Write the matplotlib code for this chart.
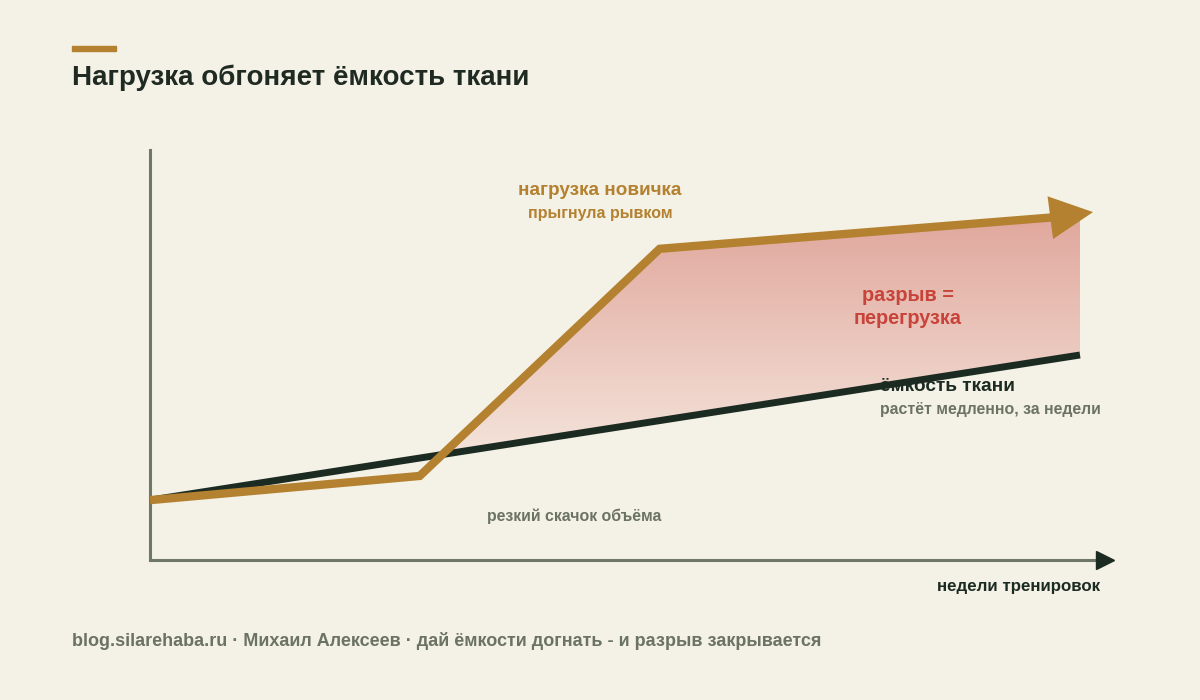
import matplotlib.pyplot as plt
import numpy as np
from matplotlib.colors import LinearSegmentedColormap
from matplotlib.patches import Polygon

# Data (weeks vs. relative level)
load_weeks = [0, 2.9, 5.48, 10]
load_level = [1.46, 2.05, 7.59, 8.41]
cap_weeks = [0, 10]
cap_level = [1.46, 5.0]

title = 'Нагрузка обгоняет ёмкость ткани'
footer = 'blog.silarehaba.ru · Михаил Алексеев · дай ёмкости догнать - и разрыв закрывается'

bg = '#f4f1e6'
gold = '#b3812f'
dark = '#1c2b22'
axis_col = '#6f7868'
gray = '#6b7363'
red = '#c8443a'

plt.rcParams['font.family'] = ['Liberation Sans', 'DejaVu Sans']

fig = plt.figure(figsize=(12, 7), dpi=100, facecolor=bg)
ax = fig.add_axes([150 / 1200, 140 / 700, 950 / 1200, 410 / 700])
ax.set_facecolor(bg)

# gap region: from where load crosses capacity, up along load, back along capacity
x = np.array(load_weeks, dtype=float)
load_arr = np.array(load_level)
cap_at = np.interp(x, cap_weeks, cap_level)
diff = load_arr - cap_at
i = np.where(diff > 0)[0][0]
t = -diff[i - 1] / (diff[i] - diff[i - 1])
x0 = x[i - 1] + t * (x[i] - x[i - 1])
y0 = np.interp(x0, cap_weeks, cap_level)
verts = [(x0, y0)] + list(zip(x[i:], load_arr[i:])) + \
        [(x[-1], cap_at[-1]), (x0, y0)]
gap = Polygon(verts, closed=True, facecolor='none', edgecolor='none')
ax.add_patch(gap)

cmap = LinearSegmentedColormap.from_list('gap', ['#f4e3da', '#e0a69b'])
grad = np.linspace(0, 1, 256).reshape(-1, 1)
im = ax.imshow(grad, extent=[0, 10, 2.6, 8.5], origin='lower', cmap=cmap,
               aspect='auto', zorder=1)
im.set_clip_path(gap)

ax.set_xlim(0, 950 / 93)
ax.set_ylim(0, 10)

# lines
ax.plot(cap_weeks, cap_level, color=dark, lw=5, solid_capstyle='butt', zorder=3)
ax.plot(load_weeks, load_level, color=gold, lw=6, solid_joinstyle='miter',
        solid_capstyle='butt', zorder=4)
slope = (load_level[-1] - load_level[-2]) / (load_weeks[-1] - load_weeks[-2])
tip_x = load_weeks[-1] + 0.14
ax.annotate('', xy=(tip_x, load_level[-1] + slope * 0.14 + 0.05),
            xytext=(load_weeks[-1] - 0.3, load_level[-1] - slope * 0.3),
            arrowprops=dict(arrowstyle='-|>,head_length=1.0,head_width=0.5',
                            mutation_scale=31, color=gold, lw=0,
                            shrinkA=0, shrinkB=0), zorder=5, annotation_clip=False)

# axes
for s in ['top', 'right']:
    ax.spines[s].set_visible(False)
for s in ['left', 'bottom']:
    ax.spines[s].set_color(axis_col)
    ax.spines[s].set_linewidth(2.2)
ax.set_xticks([])
ax.set_yticks([])
ax.plot(1.005, 0, '>', transform=ax.transAxes, clip_on=False, ms=13,
        color=dark, mec=dark, zorder=6)

# annotations
ax.text(4.84, 9.02, 'нагрузка новичка', color=gold, fontsize=13.6,
        fontweight='bold', ha='center', va='center')
ax.text(4.84, 8.46, 'прыгнула рывком', color=gold, fontsize=11.5,
        fontweight='bold', ha='center', va='center')
ax.text(8.15, 6.44, 'разрыв =', color=red, fontsize=14.3,
        fontweight='bold', ha='center', va='center')
ax.text(8.15, 5.88, 'перегрузка', color=red, fontsize=14.3,
        fontweight='bold', ha='center', va='center')
ax.text(7.85, 4.24, 'ёмкость ткани', color=dark, fontsize=13.7,
        fontweight='bold', ha='left', va='center', zorder=6)
ax.text(7.85, 3.68, 'растёт медленно, за недели', color=gray, fontsize=11.4,
        fontweight='bold', ha='left', va='center')
ax.text(4.56, 1.07, 'резкий скачок объёма', color=gray, fontsize=11.4,
        fontweight='bold', ha='center', va='center')

# title, x label, footer
fig.patches.append(plt.Rectangle((72 / 1200, 1 - 51 / 700), 44 / 1200, 5 / 700,
                                 transform=fig.transFigure, color=gold))
fig.text(72 / 1200, 1 - 78 / 700, title, color='#1f2a22', fontsize=20,
         fontweight='bold', ha='left', va='center')
fig.text(1100 / 1200, 1 - 587 / 700, 'недели тренировок', color=dark,
         fontsize=12.2, fontweight='bold', ha='right', va='center')
fig.text(72 / 1200, 1 - 641 / 700, footer, color=gray, fontsize=13,
         fontweight='bold', ha='left', va='center')

fig.savefig('out.png', dpi=100, facecolor=bg)
